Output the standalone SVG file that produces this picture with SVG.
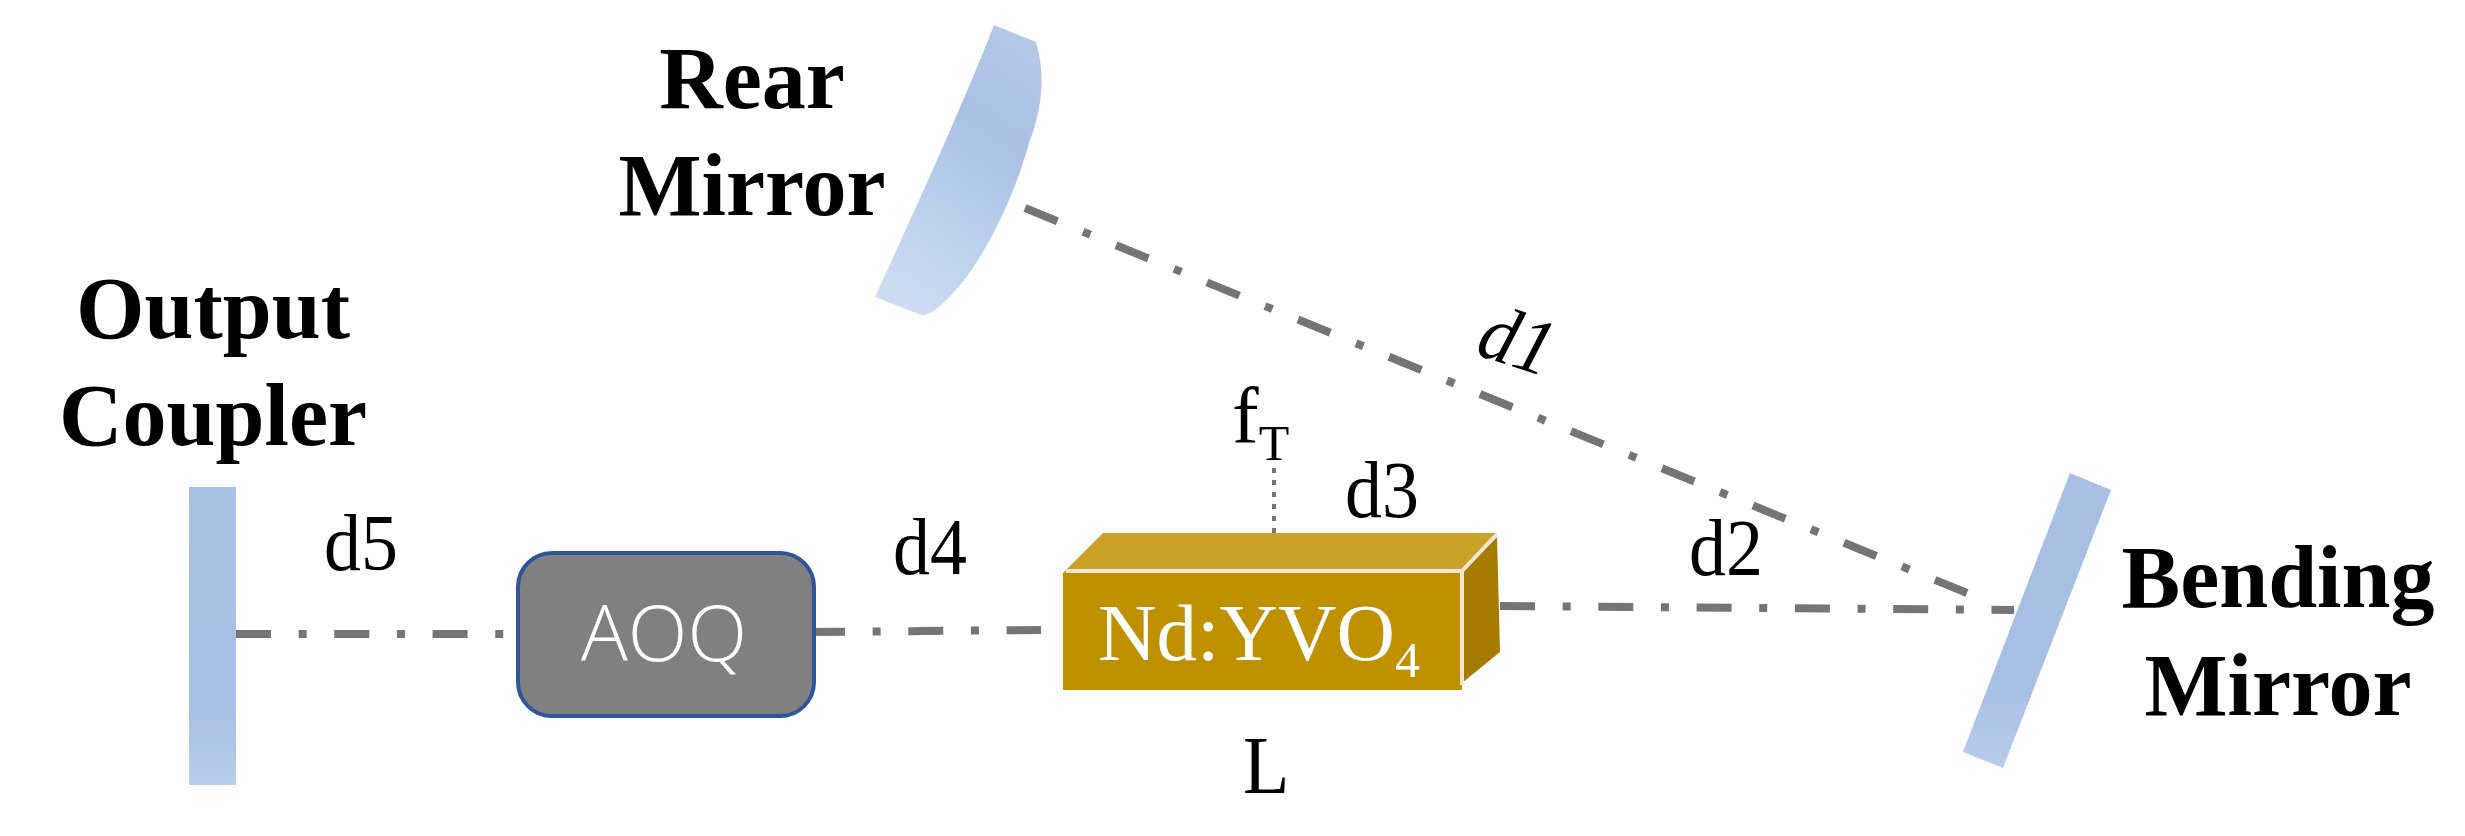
<svg xmlns="http://www.w3.org/2000/svg" width="2465" height="836" viewBox="0 0 2465 836">
<style>
.t{font-family:"Liberation Serif","Times New Roman",serif;fill:#000}
.b{font-weight:bold;font-size:88px;text-anchor:middle}
.l{font-size:74px}
.beam{fill:none;stroke:#757575;stroke-width:8;stroke-dasharray:35 27.65 8 27.65}
</style>
<defs>
<linearGradient id="mv" x1="0" y1="0" x2="0" y2="1"><stop offset="0" stop-color="#a9bfe3"/><stop offset=".75" stop-color="#a8c0e6"/><stop offset="1" stop-color="#b9cdeb"/></linearGradient>
<linearGradient id="mr" x1="0.7" y1="0" x2="0.3" y2="1"><stop offset="0" stop-color="#b4c8e8"/><stop offset=".3" stop-color="#a9c0e5"/><stop offset=".6" stop-color="#b7cdeb"/><stop offset="1" stop-color="#cddcf1"/></linearGradient>
</defs>
<rect width="2465" height="836" fill="#fff"/>
<g id="connectors">
<path class="beam" d="M236 634H507"/>
<path class="beam" d="M810 632L1041 630"/>
<path class="beam" d="M1500 606L2014 610"/>
<path class="beam" d="M1025 208L1967 593"/>
<path d="M1274 468V533" fill="none" stroke="#757575" stroke-width="4" stroke-dasharray="5 7"/>
</g>
<g id="rear-mirror">
<path d="M994 25L1036 42C1046 75 1042 110 1029 143C1012 205 975 280 935 310Q927 316 921 315L875 297C915 210 965 100 994 25Z" fill="url(#mr)"/>
<text class="t b" x="752" y="108">Rear</text>
<text class="t b" x="752" y="215">Mirror</text>
</g>
<g id="output-coupler">
<rect x="189" y="487" width="47" height="298" fill="url(#mv)"/>
<text class="t b" x="213" y="338">Output</text>
<text class="t b" x="213" y="445">Coupler</text>
</g>
<g id="bending-mirror">
<polygon points="2070,473 2111,490 2003,768 1963,752" fill="url(#mv)"/>
<text class="t b" x="2278" y="607">Bending</text>
<text class="t b" x="2278" y="715">Mirror</text>
</g>
<g id="aoq">
<rect x="518" y="553" width="296" height="163" rx="34" fill="#808080" stroke="#2f5597" stroke-width="4"/>
<text x="664" y="661" font-family="'Open Sans','Noto Sans',sans-serif" font-weight="300" font-size="78" fill="#fff" text-anchor="middle">AOQ</text>
</g>
<g id="crystal">
<polygon points="1063,573 1103,533 1497,533 1462,573" fill="#c9a227"/>
<polygon points="1462,573 1497,537 1500,652 1462,683" fill="#a67c00"/>
<rect x="1063" y="573" width="399" height="117" fill="#bf9000"/>
<path d="M1066 571H1462L1497 534M1462 571V685" fill="none" stroke="#f6e4d2" stroke-width="4"/>
<text class="t" x="1098" y="660" font-size="81" style="fill:#fff">Nd:YVO<tspan font-size="50" dy="17">4</tspan></text>
</g>
<g id="labels">
<text class="t l" transform="translate(1474 354) rotate(18) scale(1 1.08)" font-style="italic">d1</text>
<text class="t l" transform="translate(1689 575) scale(1 1.1)">d2</text>
<text class="t l" transform="translate(1345 517) scale(1 1.1)">d3</text>
<text class="t l" transform="translate(893 574) scale(1 1.1)">d4</text>
<text class="t l" transform="translate(324 570) scale(1 1.1)">d5</text>
<text class="t" x="1232" y="443" font-size="80">f<tspan font-size="50" dy="17">T</tspan></text>
<text class="t" transform="translate(1243 793) scale(1 1.08)" font-size="76">L</text>
</g>
</svg>
